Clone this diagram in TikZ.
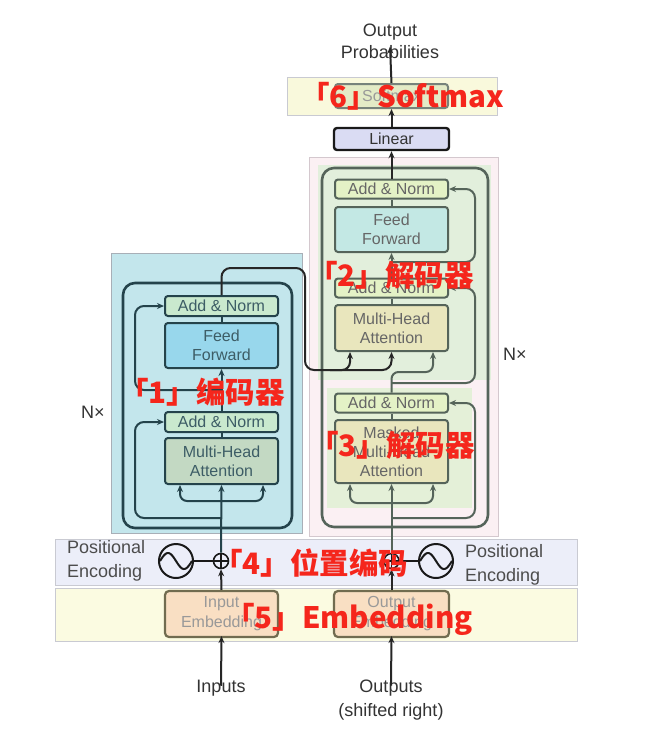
\documentclass[tikz,border=0pt]{standalone}
\usepackage{fontspec}
\setmainfont{Liberation Sans}
\newfontfamily\cjk{Noto Sans CJK SC}
\usetikzlibrary{arrows.meta,calc}
\newcommand\fsz[2]{\fontsize{#1}{#2}\selectfont}
\definecolor{labred}{RGB}{245,38,28}
\definecolor{encbg}{HTML}{C3E6EC}
\definecolor{encline}{HTML}{24434B}
\definecolor{enctext}{HTML}{3D5D66}
\definecolor{encan}{HTML}{C9E9CE}
\definecolor{encff}{HTML}{98D7EC}
\definecolor{encmha}{HTML}{C3D9C3}
\definecolor{decbg}{HTML}{FBF0F3}
\definecolor{decgreen}{HTML}{E2EFDC}
\definecolor{decgreenb}{HTML}{E4F0D8}
\definecolor{decline}{HTML}{55645A}
\definecolor{dectext}{HTML}{666666}
\definecolor{decan}{HTML}{E4F2C6}
\definecolor{decff}{HTML}{C3E8E4}
\definecolor{decmha}{HTML}{E9E6BD}
\definecolor{softband}{HTML}{F9F9DC}
\definecolor{softbox}{HTML}{E3EBC6}
\definecolor{linfill}{HTML}{DADCF3}
\definecolor{posband}{HTML}{ECEEF9}
\definecolor{embband}{HTML}{FBFBE1}
\definecolor{embfill}{HTML}{F9DFC3}
\definecolor{embline}{HTML}{716C50}
\definecolor{bandline}{HTML}{C9CAD2}
\definecolor{maintext}{HTML}{333333}
\tikzset{
  arr/.style={-{Stealth[length=7pt,width=6pt]}},
  band/.style={draw=bandline, line width=0.8pt, inner sep=0},
  layer/.style={rounded corners=12, line width=2.6pt},
  ebox/.style={draw=encline, fill=#1, rounded corners=3, line width=2pt, minimum width=113, inner sep=0, align=center, text=enctext, font=\fsz{16}{19}},
  dbox/.style={draw=decline, fill=#1, rounded corners=3, line width=2pt, minimum width=113, inner sep=0, align=center, text=dectext, font=\fsz{16}{19}},
  eflow/.style={draw=encline, line width=2pt},
  dflow/.style={draw=decline, line width=2pt},
  kflow/.style={draw=black!85, line width=2pt},
  lbl/.style={text=maintext, align=center, font=\fsz{18}{22}, inner sep=0},
  redlab/.style={text=labred, font=\cjk\bfseries\fsz{29.5}{31}, inner sep=0, anchor=base west},
}
\begin{document}
\begin{tikzpicture}[x=1pt,y=-1pt]
\useasboundingbox (0,0) rectangle (647,737);
\fill[white] (0,0) rectangle (647,737);

% bands and backgrounds
\node[band, fill=softband, minimum width=210, minimum height=38] (smband) at (392,96) {};
\node[band, fill=posband, minimum width=522, minimum height=46] (pband) at (316,562) {};
\node[band, fill=embband, minimum width=522, minimum height=53] (eband) at (316,614.5) {};
\node[band, fill=encbg, draw=bandline!80!encline, minimum width=191, minimum height=280] (encbox) at (206.5,393) {};
\node[band, fill=decbg, draw=bandline!80!pink, minimum width=189, minimum height=379] (decbox) at (403.5,346.5) {};
\node[fill=decgreen, inner sep=0, minimum width=173, minimum height=215] (dg2) at (404.5,272.5) {};
\node[fill=decgreenb, inner sep=0, minimum width=145, minimum height=120] (dg3) at (399.5,448) {};

% layer frames
\draw[layer, draw=encline] (123,283) rectangle (292,528);
\draw[layer, draw=decline] (322,168) rectangle (488,527);

% encoder boxes
\node[ebox=encan, minimum height=20] (ean2) at (221.5,306) {Add \& Norm};
\node[ebox=encff, minimum height=45] (eff) at (221.5,345.5) {Feed\\Forward};
\node[ebox=encan, minimum height=20] (ean1) at (221.5,422) {Add \& Norm};
\node[ebox=encmha, minimum height=46] (emha) at (221.5,461) {Multi-Head\\Attention};

% decoder boxes
\node[dbox=decan, minimum height=19] (dan3) at (391.5,189) {Add \& Norm};
\node[dbox=decff, minimum height=45] (dff) at (391.5,229.5) {Feed\\Forward};
\node[dbox=decan, minimum height=19] (dan2) at (391.5,288) {Add \& Norm};
\node[dbox=decmha, minimum height=46] (dmha) at (391.5,328) {Multi-Head\\Attention};
\node[dbox=decan, minimum height=19] (dan1) at (391.5,403) {Add \& Norm};
\node[dbox=decmha, minimum height=63] (dmmha) at (391.5,451.5) {Masked\\Multi-Head\\Attention};

% top
\node[dbox=softbox, minimum height=24, text=black!40, draw=decline!80] (soft) at (391.5,96) {Softmax};
\node[draw=black!90, fill=linfill, rounded corners=3, line width=2.4pt, minimum width=115, minimum height=22, inner sep=0, text=maintext, font=\fsz{16}{19}] (lin) at (391.5,139) {Linear};
\node[lbl] (prob) at (390,41) {Output\\Probabilities};

% embeddings
\node[draw=embline, fill=embfill, rounded corners=4, line width=2.2pt, minimum width=113, minimum height=46, inner sep=0, align=center, text=black!40, font=\fsz{16}{20}] (iemb) at (221.5,614) {Input\\Embedding};
\node[draw=embline, fill=embfill, rounded corners=4, line width=2.2pt, minimum width=115, minimum height=46, inner sep=0, align=center, text=black!40, font=\fsz{16}{20}] (oemb) at (391.5,614) {Output\\Embedding};

% positional encoding
\node[circle, draw=black!90, line width=1.6pt, minimum size=15, inner sep=0] (plus1) at (221,561) {};
\node[circle, draw=black!90, line width=1.6pt, minimum size=15, inner sep=0] (plus2) at (391.5,561) {};
\node[circle, draw=black!90, line width=2pt, minimum size=34, inner sep=0] (sine1) at (176,561) {};
\node[circle, draw=black!90, line width=2pt, minimum size=34, inner sep=0] (sine2) at (436,561) {};
\draw[black!90, line width=2pt, shift={(sine1.center)}, domain=-1:1, samples=40, smooth] plot (\x*16, {8*sin(180*\x)});
\draw[black!90, line width=2pt, shift={(sine2.center)}, domain=-1:1, samples=40, smooth] plot (\x*16, {8*sin(180*\x)});
\node[lbl, align=left, anchor=west, font=\fsz{18}{24}, text=black!70] (pe1) at (67,561) {Positional\\Encoding};
\node[lbl, align=left, anchor=west, font=\fsz{18}{24}, text=black!70] (pe2) at (465,565) {Positional\\Encoding};

% inputs / outputs
\node[lbl] (inp) at (221,688) {Inputs};
\node[lbl, font=\fsz{18}{24}] (outp) at (391,700) {Outputs\\(shifted right)};
\node[lbl] (nx1) at (93,412) {N×};
\node[lbl] (nx2) at (515,354) {N×};

% ---------- connectors ----------
\coordinate (ebr) at (221.5,501);
\coordinate (er1) at (221.5,518);
\coordinate (er2) at (221.5,390);
\coordinate (eL) at (135,0);
\coordinate (eout) at (305,268);
\coordinate (dkv) at (360,370);
\coordinate (dkvb) at (330,370);
\coordinate (dbr) at (391.5,503);
\coordinate (dr1) at (391.5,518);
\coordinate (dR) at (475,0);
\coordinate (dq) at (391.5,383);
\coordinate (dqt) at (412,372);
\coordinate (dr3) at (391.5,262);

% bottom inputs
\draw[kflow, arr] ([yshift=-6]inp.north) -- ([yshift=2]iemb.south);
\draw[kflow, arr] ([yshift=-6]outp.north) -- ([yshift=2]oemb.south);
\draw[kflow, arr] (iemb.north) -- (plus1.south);
\draw[kflow, arr] (oemb.north) -- (plus2.south);
\draw[black!90, line width=1.6pt] (plus1.north) -- (plus1.south) (plus1.west) -- (plus1.east);
\draw[black!90, line width=1.6pt] (plus2.north) -- (plus2.south) (plus2.west) -- (plus2.east);
\draw[black!90, line width=2pt] (sine1.east) -- (plus1.west);
\draw[black!90, line width=2pt] (sine2.west) -- (plus2.east);

% encoder flow
\draw[eflow, arr] (plus1.north) -- (emha.south);
\draw[eflow, arr, rounded corners=7] (ebr) -| ([xshift=-41.5]emha.south);
\draw[eflow, arr, rounded corners=7] (ebr) -| ([xshift=41.5]emha.south);
\draw[eflow, arr, rounded corners=9] (er1) -| (eL |- ean1.west) -- (ean1.west);
\draw[eflow] (emha.north) -- (ean1.south);
\draw[eflow, arr] (ean1.north) -- (eff.south);
\draw[eflow, arr, rounded corners=9] (er2) -| (eL |- ean2.west) -- (ean2.west);
\draw[eflow] (eff.north) -- (ean2.south);
\draw[kflow, arr, rounded corners=9] (ean2.north) |- (eout) |- (dkv) -| (dmha.south);
\draw[kflow, arr, rounded corners=8] (dkvb) -| ([xshift=-41.5]dmha.south);

% decoder flow
\draw[dflow, arr] (plus2.north) -- (dmmha.south);
\draw[dflow, arr, rounded corners=7] (dbr) -| ([xshift=-41.5]dmmha.south);
\draw[dflow, arr, rounded corners=7] (dbr) -| ([xshift=41.5]dmmha.south);
\draw[dflow, arr, rounded corners=9] (dr1) -| (dR |- dan1.east) -- (dan1.east);
\draw[dflow] (dmmha.north) -- (dan1.south);
\draw[dflow, arr, rounded corners=7] (dan1.north) |- (dqt) -| ([xshift=41.5]dmha.south);
\draw[dflow, arr, rounded corners=9] (dq) -| (dR |- dan2.east) -- (dan2.east);
\draw[dflow] (dmha.north) -- (dan2.south);
\draw[dflow, arr] (dan2.north) -- (dff.south);
\draw[dflow, arr, rounded corners=9] (dr3) -| (dR |- dan3.east) -- (dan3.east);
\draw[dflow] (dff.north) -- (dan3.south);
\draw[kflow, arr] (dan3.north) -- (lin.south);
\draw[kflow, arr] (lin.north) -- (soft.south);
\draw[kflow, arr] (soft.north) -- ([yshift=12]prob.south);

% red annotations
\node[redlab] (r6) at (300,107) {「6」Softmax};
\node[redlab] (r2) at (308,286) {「2」解码器};
\node[redlab] (r1) at (119,403) {「1」编码器};
\node[redlab] (r3) at (309,456) {「3」解码器};
\node[redlab] (r4) at (213,574) {「4」位置编码};
\node[redlab] (r5) at (225,628) {「5」Embedding};
\end{tikzpicture}
\end{document}
